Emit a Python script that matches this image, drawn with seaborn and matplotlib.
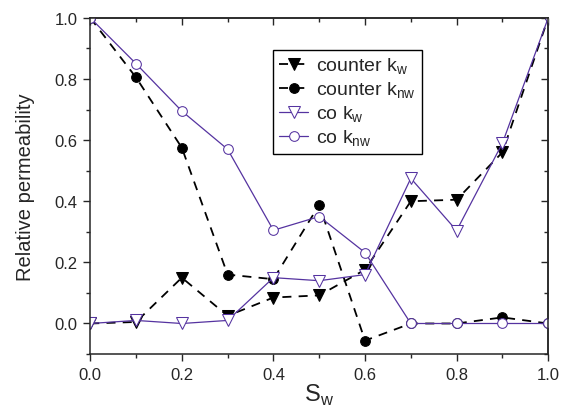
import seaborn as sns
import matplotlib.pyplot as plt
import matplotlib.ticker as mticker
import pandas as pd

sw = [0.0, 0.1, 0.2, 0.3, 0.4, 0.5, 0.6, 0.7, 0.8, 0.9, 1.0]
counter_kw = [0.0, 0.005, 0.15, 0.025, 0.085, 0.092, 0.176, 0.40, 0.405, 0.56, 1.0]
counter_knw = [1.0, 0.805, 0.575, 0.16, 0.145, 0.388, -0.056, 0.0, 0.0, 0.02, 0.0]
co_kw = [0.0, 0.01, 0.0, 0.01, 0.15, 0.14, 0.16, 0.475, 0.304, 0.59, 1.0]
co_knw = [1.0, 0.85, 0.695, 0.57, 0.305, 0.35, 0.232, 0.0, 0.0, 0.0, 0.0]

df = pd.DataFrame({"sw": sw, "counter_kw": counter_kw, "counter_knw": counter_knw,
                   "co_kw": co_kw, "co_knw": co_knw})

sns.set_style("ticks")
plt.rcParams['font.family'] = ['Liberation Sans', 'DejaVu Sans']
plt.rcParams['mathtext.fontset'] = 'custom'
plt.rcParams['mathtext.rm'] = 'Liberation Sans'

purple = "#5533a0"
fig, ax = plt.subplots(figsize=(5.64, 4.10), dpi=100)
fig.subplots_adjust(left=0.16, right=0.972, top=0.954, bottom=0.134)

sns.lineplot(data=df, x="sw", y="counter_kw", ax=ax, color="black", linestyle=(0, (5, 4)),
             lw=1.3, marker="v", markersize=8, markerfacecolor="black", markeredgecolor="black",
             label=r"counter k$_\mathregular{w}$")
sns.lineplot(data=df, x="sw", y="counter_knw", ax=ax, color="black", linestyle=(0, (5, 4)),
             lw=1.3, marker="o", markersize=7, markerfacecolor="black", markeredgecolor="black",
             label=r"counter k$_\mathregular{nw}$")
sns.lineplot(data=df, x="sw", y="co_kw", ax=ax, color=purple, lw=0.9,
             marker="v", markersize=8, markerfacecolor="white", markeredgecolor=purple,
             label=r"co k$_\mathregular{w}$")
sns.lineplot(data=df, x="sw", y="co_knw", ax=ax, color=purple, lw=0.9,
             marker="o", markersize=7, markerfacecolor="white", markeredgecolor=purple,
             label=r"co k$_\mathregular{nw}$")

ax.set_xlim(0, 1.0)
ax.set_ylim(-0.1, 1.0)
ax.xaxis.set_major_locator(mticker.MultipleLocator(0.2))
ax.xaxis.set_minor_locator(mticker.MultipleLocator(0.1))
ax.yaxis.set_major_locator(mticker.MultipleLocator(0.2))
ax.yaxis.set_minor_locator(mticker.MultipleLocator(0.1))
ax.xaxis.set_major_formatter(mticker.FormatStrFormatter('%.1f'))
ax.yaxis.set_major_formatter(mticker.FormatStrFormatter('%.1f'))
ax.tick_params(which='both', direction='out', width=1.0, labelsize=12, pad=4)
ax.tick_params(which='major', length=5)
ax.tick_params(which='minor', length=3)
for s in ax.spines.values():
    s.set_linewidth(1.1)

# mirrored inward ticks on top and right
top = ax.secondary_xaxis('top')
right = ax.secondary_yaxis('right')
for sec, axis in ((top, top.xaxis), (right, right.yaxis)):
    axis.set_major_locator(mticker.MultipleLocator(0.2))
    axis.set_minor_locator(mticker.MultipleLocator(0.1))
    axis.set_major_formatter(mticker.NullFormatter())
    sec.tick_params(which='both', direction='in', width=1.0)
    sec.tick_params(which='major', length=5)
    sec.tick_params(which='minor', length=3)
    for s in sec.spines.values():
        s.set_linewidth(1.1)

ax.set_xlabel(r"S$_\mathregular{w}$", fontsize=17, labelpad=0)
ax.set_ylabel("Relative permeability", fontsize=14.5, labelpad=14)

leg = ax.legend(loc="upper left", bbox_to_anchor=(0.40, 0.905), fontsize=14,
                frameon=True, fancybox=False, edgecolor="black", framealpha=1,
                handlelength=1.5, borderpad=0.3, labelspacing=0.2, handletextpad=0.4,
                borderaxespad=0)
leg.get_frame().set_linewidth(1.0)

plt.savefig("out.png", dpi=100)
